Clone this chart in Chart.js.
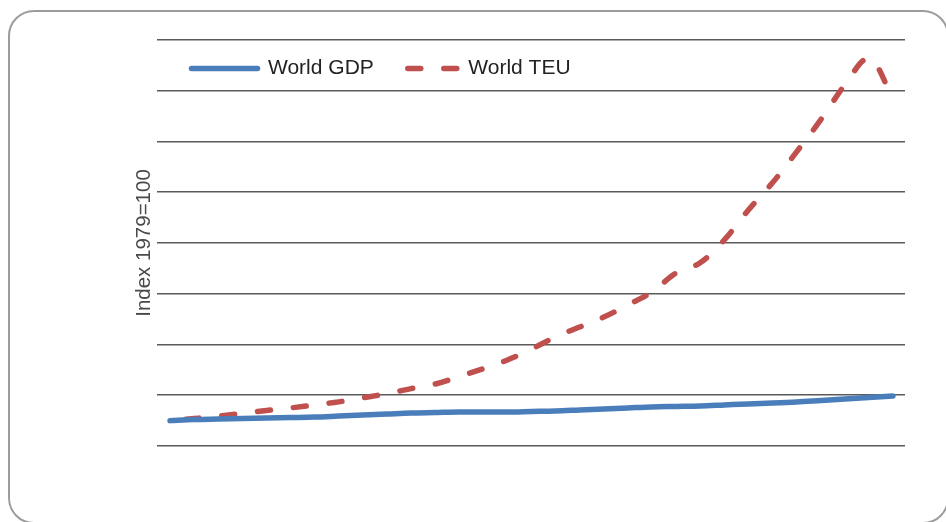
<!DOCTYPE html>
<html>
<head>
<meta charset="utf-8">
<script src="https://cdn.jsdelivr.net/npm/chart.js@4"></script>
<style>
  html, body { margin: 0; padding: 0; background: #fff; overflow: hidden; }
  #wrap { position: relative; width: 946px; height: 522px; overflow: hidden; }
  #frame {
    position: absolute; left: 8px; top: 10px;
    width: 941px; height: 514px; box-sizing: border-box;
    border: 2px solid #9c9c9c; border-radius: 26px;
  }
  canvas { position: absolute; left: 0; top: 0; }
</style>
</head>
<body>
<div id="wrap">
  <div id="frame"></div>
  <canvas id="chart" width="946" height="522"></canvas>
</div>
<script>
// years on the (hidden) x axis
const years = [1979, 1980, 1981, 1982, 1983, 1984, 1985, 1986, 1987, 1988,
  1989, 1990, 1991, 1992, 1993, 1994, 1995, 1996, 1997, 1998,
  1999, 2000, 2001, 2002, 2003, 2004, 2005, 2006, 2007, 2008, 2009];

// index, 1979 = 100
const worldGdp = [100, 104, 106, 108, 110, 112, 114, 118, 122, 126,
  130, 132, 134, 134, 134, 136, 138, 142, 146, 150,
  154, 156, 158, 162, 166, 169, 173, 179, 185, 191, 197];

const worldTeu = [100, 108, 118, 128, 140, 150, 162, 174, 190, 206,
  226, 244, 274, 305, 339, 382, 430, 469, 508, 556,
  607, 682, 722, 812, 930, 1037, 1159, 1285, 1423, 1529, 1371];

const yTicks = { min: 0, max: 1600, step: 200 };

const toPoints = vals => vals.map((v, i) => ({ x: years[i], y: v }));

// legend sits over the plot: it takes no layout height, then gets its
// drawing box back and starts a little right of the plot's left edge
const legendOverlay = {
  id: 'legendOverlay',
  beforeInit(chart) {
    const legend = chart.legend;
    const fit = legend.fit;
    legend.fit = function() {
      fit.call(this);
      this._boxH = this.height;
      this.height = 0;
    };
  },
  afterLayout(chart) {
    const legend = chart.legend;
    legend.left += 16.5;
    legend.right += 16.5;
    legend.height = legend._boxH;
    legend.bottom = legend.top + legend._boxH;
  }
};

new Chart(document.getElementById('chart'), {
  type: 'line',
  data: {
    datasets: [{
      label: 'World GDP',
      data: toPoints(worldGdp),
      borderColor: '#4a7ebb',
      backgroundColor: '#4a7ebb',
      borderWidth: 5.5,
      borderCapStyle: 'round',
      pointRadius: 0,
      pointStyle: 'line',
      cubicInterpolationMode: 'monotone',
      fill: false
    }, {
      label: 'World TEU',
      data: toPoints(worldTeu),
      borderColor: '#c0504d',
      backgroundColor: '#c0504d',
      borderWidth: 5.5,
      borderDash: [13, 23],
      borderDashOffset: 20,
      borderCapStyle: 'round',
      pointRadius: 0,
      pointStyle: 'line',
      cubicInterpolationMode: 'monotone',
      fill: false
    }]
  },
  options: {
    responsive: false,
    animation: false,
    events: [],
    layout: { padding: { left: 127, right: 41, top: 40, bottom: 76 } },
    scales: {
      x: {
        type: 'linear',
        min: 1978.46,
        max: 2009.5,
        display: false
      },
      y: {
        min: yTicks.min,
        max: yTicks.max,
        ticks: { display: false, stepSize: yTicks.step },
        grid: { color: '#5a5a5a', lineWidth: 1.6, drawTicks: false },
        border: { display: false },
        title: {
          display: true,
          text: 'Index 1979=100',
          color: '#4a4a4a',
          font: { family: 'Liberation Sans, Arial, sans-serif', size: 20.5 },
          padding: { top: 5, bottom: 0 }
        },
        afterFit(scale) { scale.width = 30; }
      }
    },
    plugins: {
      legend: {
        position: 'top',
        align: 'start',
        fullSize: false,
        labels: {
          usePointStyle: true,
          pointStyleWidth: 66,
          padding: 18,
          color: '#222',
          font: { family: 'Liberation Sans, Arial, sans-serif', size: 21 },
          generateLabels(chart) {
            const items = Chart.defaults.plugins.legend.labels.generateLabels(chart);
            items.forEach(item => {
              const ds = chart.data.datasets[item.datasetIndex];
              item.strokeStyle = ds.borderColor;
              item.lineWidth = ds.borderWidth;
              item.lineDash = ds.borderDash || [];
              item.lineDashOffset = ds.borderDashOffset || 0;
              item.lineCap = ds.borderCapStyle;
            });
            return items;
          }
        }
      },
      tooltip: { enabled: false }
    }
  },
  plugins: [legendOverlay]
});
</script>
</body>
</html>
